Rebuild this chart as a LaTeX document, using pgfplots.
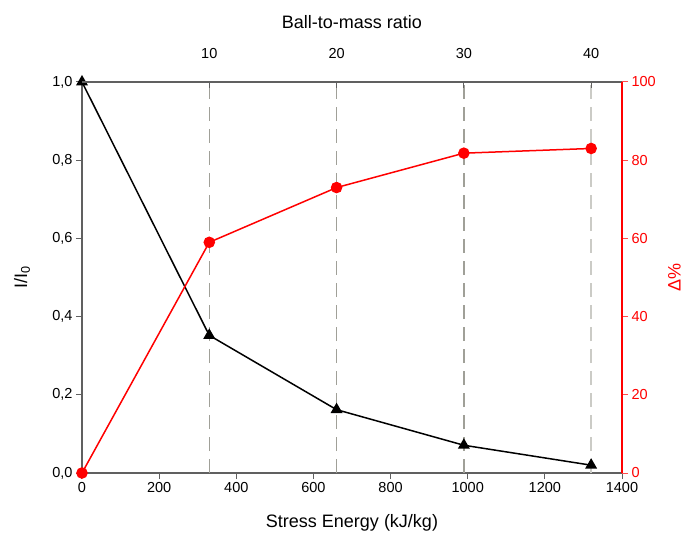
\documentclass[border=0pt]{standalone}
\usepackage{fontspec}
\setmainfont{Liberation Sans}
\usepackage{pgfplots}
\pgfplotsset{compat=1.18}
\definecolor{axgray}{RGB}{96,96,96}
\definecolor{dashgray}{RGB}{160,160,152}
\begin{document}
\begin{tikzpicture}
\useasboundingbox (-82pt,-66pt) rectangle (607pt,473pt);
\begin{axis}[
  at={(0,0)}, anchor=south west,
  scale only axis, width=540pt, height=391pt,
  xmin=0, xmax=1400, ymin=0, ymax=1,
  axis x line*=bottom, axis y line*=left,
  axis line style={axgray, line width=1.4pt, -},
  tick align=outside, major tick length=6pt,
  tick style={axgray, line width=1pt},
  xtick={0,200,...,1400}, ytick={0,0.2,...,1.0},
  /pgf/number format/assume math mode=true,
  yticklabel style={/pgf/number format/.cd, use comma, fixed, fixed zerofill, precision=1},
  xticklabel style={/pgf/number format/.cd, 1000 sep={}},
  ticklabel style={font=\fontsize{14.5}{16}\selectfont},
  xlabel={Stress Energy (kJ/kg)},
  ylabel={I/I\textsubscript{0}},
  xlabel style={at={(axis description cs:0.5,-0.128)}, anchor=center, font=\fontsize{18}{20}\selectfont},
  ylabel style={at={(axis description cs:-0.111,0.5)}, anchor=center, rotate=0, font=\fontsize{18}{20}\selectfont},
  clip=false,
]
\addplot[dashgray, line width=1.4pt, dash pattern=on 14pt off 8pt] coordinates {(330,0) (330,1)};
\addplot[dashgray, line width=1.4pt, dash pattern=on 14pt off 8pt] coordinates {(660,0) (660,1)};
\addplot[dashgray, line width=1.4pt, dash pattern=on 14pt off 8pt] coordinates {(990,0) (990,1)};
\addplot[dashgray!55, line width=1.4pt, dash pattern=on 14pt off 8pt] coordinates {(1320,0) (1320,1)};
\addplot[black, line width=1.5pt, mark=triangle*, mark size=5.5pt] coordinates {
  (0,1.0) (330,0.352) (660,0.162) (990,0.071) (1320,0.02)};
\end{axis}
\begin{axis}[
  at={(0,0)}, anchor=south west,
  scale only axis, width=540pt, height=391pt,
  xmin=0, xmax=1400, ymin=0, ymax=100,
  axis x line*=top, axis y line*=right,
  x axis line style={axgray, line width=1.4pt, -},
  y axis line style={red, line width=1.2pt, -},
  major tick length=6pt,
  xtick={330,660,990,1320}, xticklabels={10,20,30,40},
  xtick align=inside, ytick align=outside,
  xtick style={axgray, line width=0.8pt},
  ytick style={red!70, line width=1pt},
  ytick={0,20,...,100},
  /pgf/number format/assume math mode=true,
  ticklabel style={font=\fontsize{14.5}{16}\selectfont},
  yticklabel style={red},
  xticklabel style={yshift=20pt},
  xlabel={Ball-to-mass ratio},
  ylabel={Δ\%},
  xlabel style={at={(axis description cs:0.5,1.153)}, anchor=center, font=\fontsize{18}{20}\selectfont},
  ylabel style={at={(axis description cs:1.097,0.5)}, anchor=center, rotate=0, red, font=\fontsize{18}{20}\selectfont},
  clip=false,
]
\addplot[red, line width=1.5pt, mark=*, mark size=5pt] coordinates {
  (0,0) (330,59) (660,73) (990,81.8) (1320,83)};
\end{axis}
\end{tikzpicture}
\end{document}
